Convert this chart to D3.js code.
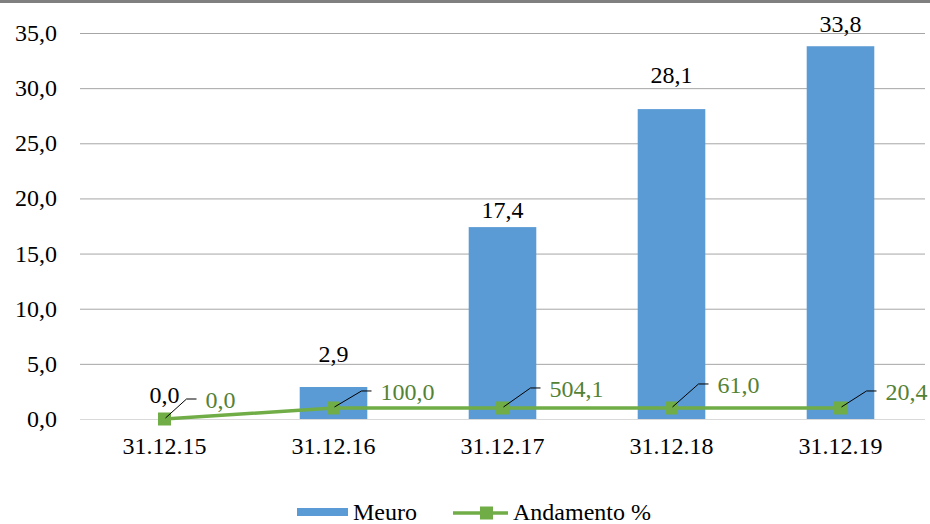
<!DOCTYPE html>
<html>
<head>
<meta charset="utf-8">
<script src="https://cdn.jsdelivr.net/npm/d3@7"></script>
<style>
  html, body { margin: 0; padding: 0; background: #fff; }
  svg { display: block; }
</style>
</head>
<body>
<div id="chart"></div>
<script>
'use strict';

// Data
const categories = ["31.12.15", "31.12.16", "31.12.17", "31.12.18", "31.12.19"];
const meuro = [0.0, 2.9, 17.4, 28.1, 33.8];
// level at which the "Andamento %" line is drawn on the left axis
const andamentoLevel = [0, 1, 1, 1, 1];
const andamentoLabels = [0.0, 100.0, 504.1, 61.0, 20.4];
const yTicks = [0, 5, 10, 15, 20, 25, 30, 35];
const seriesNames = ["Meuro", "Andamento %"];

const width = 930;
const height = 524;
const margin = { top: 33, right: 5, bottom: 105, left: 80 };
const serif = "'Times New Roman', Times, 'Liberation Serif', 'DejaVu Serif', serif";

const barColor = "#5b9bd5";
const lineColor = "#70ad47";
const labelGreen = "#548235";
const fmt = v => v.toFixed(1).replace(".", ",");

// manual label placement (Excel labels were nudged by hand)
const barLabelLift = [16, 25, 9, 26, 14];
const leaderEnd = [[32, -20], [38, -17], [38, -20], [37, -24], [36, -17]];

const svg = d3.select("#chart").append("svg")
	.attr("width", width)
	.attr("height", height)
	.style("font-family", serif);

// top border
svg.append("rect")
	.attr("x", 0).attr("y", 0)
	.attr("width", width).attr("height", 3)
	.attr("fill", "#808080");

const x = d3.scaleBand()
	.domain(categories)
	.range([margin.left, width - margin.right])
	.padding(0);

const y = d3.scaleLinear()
	.domain([0, 35])
	.range([height - margin.bottom, margin.top]);

const barW = x.bandwidth() / 2.5;
const cx = c => x(c) + x.bandwidth() / 2;

// gridlines
svg.append("g")
	.selectAll("line")
	.data(yTicks)
	.enter().append("line")
	.attr("x1", margin.left)
	.attr("x2", width - margin.right)
	.attr("y1", d => y(d) + 0.5)
	.attr("y2", d => y(d) + 0.5)
	.attr("stroke", d => d === 0 ? "#d9d9d9" : "#a6a6a6")
	.attr("stroke-width", 1);

// y tick labels
svg.append("g")
	.selectAll("text")
	.data(yTicks)
	.enter().append("text")
	.attr("x", 57)
	.attr("y", d => y(d) + 8)
	.attr("text-anchor", "end")
	.style("font-size", "24px")
	.attr("fill", "#000")
	.text(d => fmt(d));

// x labels
svg.append("g")
	.selectAll("text")
	.data(categories)
	.enter().append("text")
	.attr("x", d => cx(d))
	.attr("y", 454)
	.attr("text-anchor", "middle")
	.style("font-size", "24px")
	.attr("fill", "#000")
	.text(d => d);

// bars
svg.append("g")
	.selectAll("rect")
	.data(meuro)
	.enter().append("rect")
	.attr("x", (d, i) => cx(categories[i]) - barW / 2)
	.attr("y", d => y(d))
	.attr("width", barW)
	.attr("height", d => y(0) - y(d))
	.attr("fill", barColor);

// bar labels
svg.append("g")
	.selectAll("text")
	.data(meuro)
	.enter().append("text")
	.attr("x", (d, i) => cx(categories[i]))
	.attr("y", (d, i) => y(d) - barLabelLift[i])
	.attr("text-anchor", "middle")
	.style("font-size", "24px")
	.attr("fill", "#000")
	.text(d => fmt(d));

// line
const pts = andamentoLevel.map((v, i) => [cx(categories[i]), y(v)]);

svg.append("path")
	.datum(pts)
	.attr("d", d3.line())
	.attr("fill", "none")
	.attr("stroke", lineColor)
	.attr("stroke-width", 3.5);

svg.append("g")
	.selectAll("rect")
	.data(pts)
	.enter().append("rect")
	.attr("x", d => d[0] - 6.5)
	.attr("y", d => d[1] - 6.5)
	.attr("width", 13)
	.attr("height", 13)
	.attr("fill", lineColor);

// leader lines + line labels
const leaders = svg.append("g");
pts.forEach((p, i) => {
	const ex = p[0] + leaderEnd[i][0];
	const ey = p[1] + leaderEnd[i][1];
	leaders.append("polyline")
		.attr("points", `${p[0] + 1},${p[1] - 1} ${ex - 10},${ey} ${ex},${ey}`)
		.attr("fill", "none")
		.attr("stroke", "#000")
		.attr("stroke-width", 1);
	leaders.append("text")
		.attr("x", ex + 9)
		.attr("y", ey + 9)
		.style("font-size", "24px")
		.attr("fill", labelGreen)
		.text(fmt(andamentoLabels[i]));
});

// legend
const legend = svg.append("g");
legend.append("rect")
	.attr("x", 297).attr("y", 508)
	.attr("width", 51).attr("height", 8)
	.attr("fill", barColor);
legend.append("text")
	.attr("x", 353).attr("y", 520)
	.style("font-size", "24px")
	.text(seriesNames[0]);
legend.append("line")
	.attr("x1", 453).attr("x2", 508)
	.attr("y1", 513).attr("y2", 513)
	.attr("stroke", lineColor)
	.attr("stroke-width", 3.5);
legend.append("rect")
	.attr("x", 480).attr("y", 506.5)
	.attr("width", 13).attr("height", 13)
	.attr("fill", lineColor);
legend.append("text")
	.attr("x", 513).attr("y", 520)
	.style("font-size", "24px")
	.text(seriesNames[1]);
</script>
</body>
</html>
